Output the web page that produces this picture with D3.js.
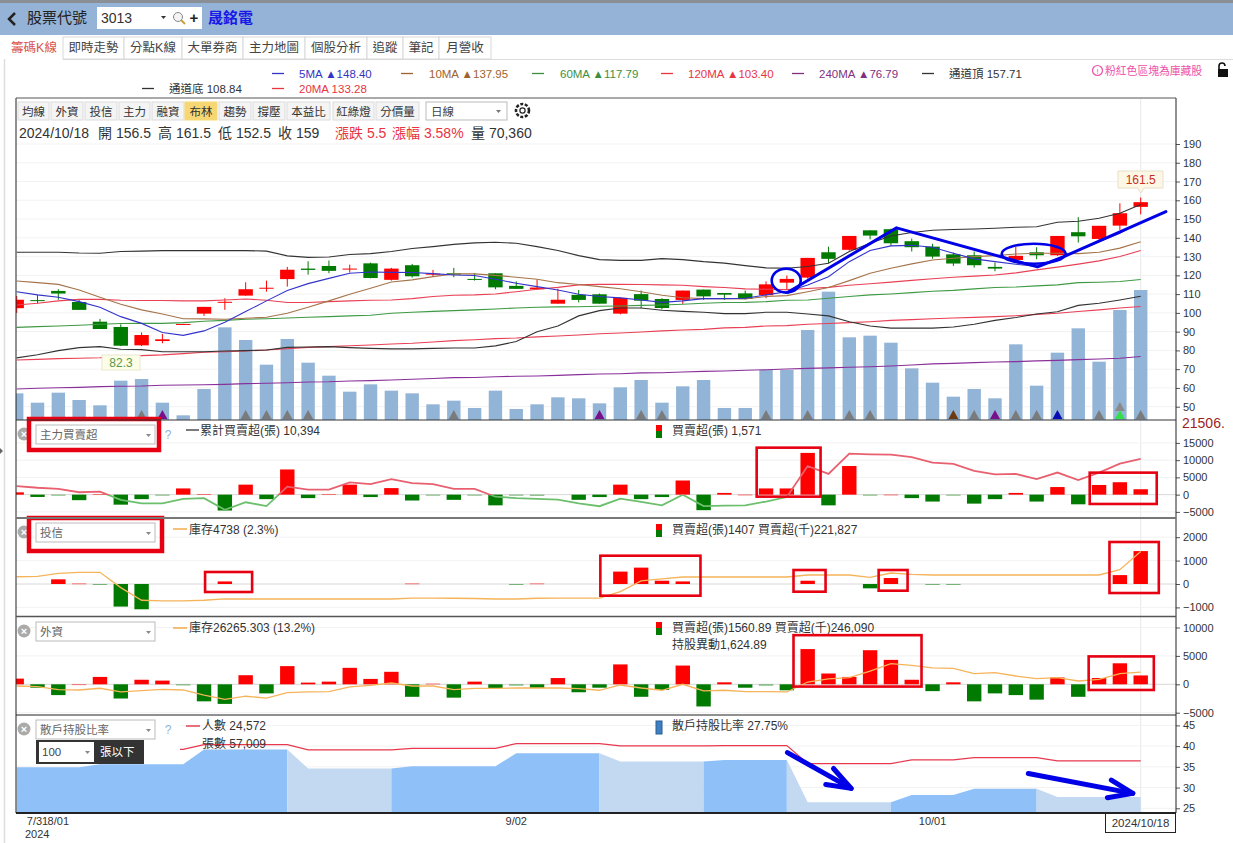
<!DOCTYPE html>
<html>
<head>
<meta charset="utf-8">
<title>晟銘電 3013</title>
<script src="https://cdn.jsdelivr.net/npm/d3@7"></script>
<style>
html, body { margin: 0; padding: 0; background: #fff; }
svg { display: block; }
text { font-family: "Liberation Sans", "Noto Sans CJK TC", sans-serif; }
</style>
</head>
<body>
<svg id="chart" width="1233" height="843"></svg>
<script>
// daily candles, 7/30 .. 2024/10/18
var opens = [102.5,106.8,111.7,105.8,95.3,92.5,82.7,85,93.7,99.6,105.6,109.2,113,118,123.6,125,123.2,126.4,117.6,125.4,120.4,121.1,118.1,121.1,114.4,112.6,104.9,109.6,109.9,99.6,110,107.4,106.9,112.4,110.6,110.4,109.4,116.1,118.8,132.3,133.6,144,144.6,138.2,135.3,131.2,130.7,124.5,128.2,132.3,130.7,143,139.4,146.5,156.5];
var closes = [107,106.5,110.3,101.6,91.4,82.5,88.2,85.9,94.1,103.2,105.9,112.6,113.4,123,122.9,122.4,123.6,118.6,123.6,119.5,120.9,120.4,117.6,113.6,112.8,113.5,107,106.9,104.9,108,106.5,102.6,111.9,108.8,109.7,107.4,115.2,118.1,129.3,128.8,141,141.2,137.1,135,130,126.3,125.4,123.6,130.4,130.7,141,140.8,146.4,153.1,159];
var highs = [109,109.5,112.6,106.9,96.8,93.9,89.6,88.8,94.1,103.2,107.8,116.3,117.2,124.5,127.5,127.9,125.7,126.8,124,126.1,122.9,124,121.1,121.1,116.8,117.6,112.9,112.2,110.3,108.3,111.9,107.8,111.9,112.4,110.6,111.9,116.8,119.9,129.3,135.3,141,144,144.9,139.6,136.8,132.1,132.7,126.8,135.3,135,141,151,146.4,158.4,161.5];
var lows = [100,105,107,101.6,91.4,82.3,82.3,83.8,93.7,98.4,101.6,109.2,111.3,114,120.4,121.1,121.5,118.4,117.2,118.8,119.3,119,117.2,112.6,112.8,112.2,104.9,105.6,104.9,99.2,102.4,101.9,104.8,106.9,106.9,107.2,107.8,112.2,118.3,126.4,133.2,139.2,135.7,132.7,128.9,125,124.1,122.2,127.7,128.6,130.4,137.5,138.9,144.2,152.5];
var volumes = [14430,9380,14790,10820,7940,21290,22190,9380,2530,16780,50150,43300,29950,43840,31030,23990,15330,19300,15880,14430,8480,10460,6490,15880,5950,8480,12270,11730,9020,17680,21650,9380,18220,21650,6490,6490,27060,27060,48700,69450,44740,45640,41850,27960,20200,12630,16780,11730,40950,18580,36440,49610,31570,59530,70360];

var ma5 = [111.3,109.6,108.3,106,103,98,94.4,89.5,88,90.4,95,100.7,106.4,111.9,115.6,118.4,121.1,121.8,121.6,121.5,120.9,120.2,119.9,117.9,115.8,114,112.2,109.9,108.7,108,106.9,105.6,106.4,107.6,107.6,107.8,109.6,111.3,114.9,119.3,127.3,133.2,135.7,136,135,131.8,128.8,127.3,125.9,124.7,129,133.3,137.9,142.4,148.4];
var ma10 = [117,116.1,115.2,112.2,108.3,104.6,101.6,99.4,96.9,96.8,96.6,97.1,97.7,99.8,103,106.4,109.9,113.1,116.5,117.6,119.3,120.8,120.8,120,119,117.9,116.1,115.1,114,112.9,111.3,109.4,108.1,107.6,107.6,107.4,108.7,109.2,111.3,113.5,117.2,121.1,123.8,126.1,128.2,129.1,130,130.5,131.4,131.8,131.8,131.6,132.3,134.5,137.95];
var ma20 = [104.2,105.1,106.4,107.2,107.2,106.7,106.6,106.6,106.4,106.4,106.9,107.4,106.7,105.5,105.5,106,106.4,106.7,106.9,107.6,108.7,109.4,109.6,110.1,111.3,112.6,113.6,114.9,115.2,115.2,115.1,114.9,114.7,114,113.5,112.8,112.6,112.4,113,113.6,114.7,115.5,116.4,117.3,118.2,119,119.6,120.2,121.3,122.9,124.4,126,127.7,130,133.28];
var ma60 = [92.3,92.7,93,93.4,93.9,94.3,94.4,94.4,94.8,95.5,96,96.6,96.9,97.3,97.7,98,98.4,98.7,99.8,100.3,100.8,101.2,101.6,102.1,102.6,103,103.2,103.3,103.5,103.7,104,104.2,104.6,105.1,105.5,105.6,106,106.7,106.9,107.8,108.7,109.6,110.1,110.8,111.5,112,112.8,113.5,113.8,114.4,114.9,116.1,116.3,116.7,117.79];
var ma120 = [74.9,75.2,75.6,75.8,76.1,76.7,77.2,77.6,78.3,79,79.3,79.7,80.2,80.9,81.6,82,82.5,82.9,83.4,83.8,84.5,85.2,85.7,86.3,86.6,87.2,87.7,88.2,88.9,89.3,89.8,90.4,90.9,91.2,92,92.3,93,93.2,93.9,94.3,94.8,95.3,96,96.4,96.9,97.3,97.6,98,98.5,99.2,99.8,100.7,101.6,102.6,103.4];
var ma240 = [59.4,59.8,60.1,60.3,60.7,60.9,61,61.4,61.6,61.7,61.9,62.3,62.5,62.8,63.2,63.3,63.7,63.9,64.2,64.6,65,65.5,65.6,66,66.2,66.4,66.7,67.1,67.4,67.6,68,68.1,68.5,68.8,69,69.4,69.7,70.1,70.4,70.7,71,71.3,71.7,72.2,72.8,73.1,73.5,73.8,74,74.4,74.7,75.1,75.4,75.8,76.79];
var bollUpper = [132.3,132.3,132.3,131.9,131.8,132.7,132.9,133.2,133.2,133.2,133.2,133.2,132.9,130.4,129.6,129.8,131.1,131.6,132.7,134.3,135.3,136.5,137.3,137.6,137.1,135.3,133.2,130.5,128.4,128,128,128.9,128.4,127.3,126.5,125.2,124,123.8,124.7,126.4,132.7,137.1,141,142.8,144,144.4,144.7,145.1,145.6,145.9,148.3,148.8,150.4,153.1,157.71];
var bollLower = [76,77.7,79.9,81.5,82,80.6,80.4,79.3,79.3,79.3,79.7,79.9,80.2,81.6,81.8,82,81.5,81.1,80.8,80.8,81.1,81.3,81.3,82.4,84.7,90,93,98.4,101.2,102.6,102.6,101.4,100.8,100.3,99.6,99.6,100.3,100.3,99.4,98.4,95.3,93,91.9,91.9,91.9,92.5,93.9,96,97.5,99.4,100.6,104,105.1,106.9,108.84];

var mainForceNet = [670,-670,-300,-1600,200,-2900,-1300,-100,1800,200,-4600,2900,-1300,7300,-1000,200,2900,-700,1900,-1700,-250,-1500,-50,-3100,-300,-350,0,-1500,-700,2900,-1300,-700,4100,-4500,500,50,1800,1800,12100,-3100,8300,-200,50,-1000,-2000,-200,-2600,-1300,500,-2000,2200,-2800,2800,3600,1571];
var mainForceTotal = [2500,2000,1700,700,850,-1500,-2500,-2500,-1250,-1000,-4400,-2200,-3300,2300,1450,1450,3550,3050,4500,3350,3050,1700,1700,-600,-1000,-1250,-1450,-2500,-3350,-1150,-2100,-3100,0,-3300,-3200,-3100,-2000,-700,8300,6000,11900,11700,11600,10900,9300,8900,6900,5900,6000,4500,6400,4200,6400,9000,10394];
var trustNet = [0,0,200,30,-30,-965,-1080,0,0,0,110,0,0,0,0,0,0,0,0,30,0,0,0,0,-30,30,0,0,0,530,700,140,110,0,0,0,0,0,140,0,0,-185,255,0,-30,-30,0,0,0,0,0,0,0,380,1407];
var trustStock = [310,330,455,500,500,-155,-695,-725,-725,-695,-640,-640,-640,-640,-640,-640,-640,-640,-640,-600,-600,-610,-620,-640,-640,-610,-600,-600,-600,-325,130,215,300,300,300,300,300,300,385,385,385,285,470,410,385,385,385,385,385,385,385,385,385,610,1390];
var foreignNet = [1000,-600,-1900,30,1300,-2500,800,650,-200,-3000,-3450,1600,-1600,3200,300,470,2900,950,2200,-2200,150,-2350,470,-650,-250,-650,1100,-1400,-600,3500,-2200,-1000,3300,-3900,350,-600,-250,-1050,6200,1900,1300,6000,4300,800,-1200,350,-3000,-1600,-1900,-2700,1200,-2200,1100,3700,1560.89];
var foreignStock = [-300,-400,-950,-1000,-700,-1350,-1100,-880,-1000,-1900,-2650,-2100,-2450,-1450,-1350,-1300,-470,-180,230,-300,-300,-950,-700,-700,-650,-650,-650,-750,-1050,-120,-650,-1050,0,-1170,-1050,-1290,-1290,-1350,400,940,1170,2340,3630,3330,2900,2800,1870,2050,1460,1000,1170,580,880,1870,2160];
var retailRatio = [34.9,34.9,34.9,34.9,35.64,35.64,35.64,35.64,35.64,39.16,39.16,39.16,39.16,39.16,34.6,34.6,34.6,34.6,34.6,35.16,35.16,35.16,35.16,35.16,38.28,38.28,38.28,38.28,38.28,36.28,36.28,36.28,36.28,36.28,36.68,36.68,36.68,36.68,26.44,26.44,26.44,26.44,26.44,28.2,28.2,28.2,29.72,29.72,29.72,29.72,27.75,27.75,27.75,27.75,27.75];
var holderLine = [39,39,39,39,39.24,39.24,39.24,39.24,39.24,40.36,40.36,40.36,40.36,40.36,39.08,39.08,39.08,39.08,39.08,39.48,39.48,39.48,39.48,39.48,40.6,40.6,40.6,40.6,40.6,40.04,40.04,40.04,40.04,40.04,40.12,40.12,40.12,40.12,35.8,35.8,35.8,35.8,35.8,36.68,36.68,36.68,37.24,37.24,37.24,37.24,36.44,36.44,36.44,36.44,36.44];

// triangles under the volume bars: [day index, kind]
var markers = [[6,"gray"],[7,"purple"],[11,"gray"],[12,"gray"],[13,"gray"],[14,"gray"],[21,"gray"],[28,"purple"],[30,"gray"],[31,"gray"],[36,"gray"],[38,"gray"],[40,"gray"],[41,"gray"],[45,"brown"],[46,"gray"],[47,"purple"],[48,"gray"],[49,"gray"],[50,"navy"],[52,"gray"],[53,"upper"],[53,"lime"],[54,"gray"]];
var dateTicks = [[1,"7/31"],[2,"8/01"],[24,"9/02"],[44,"10/01"]];

var priceTicks = [50,60,70,80,90,100,110,120,130,140,150,160,170,180,190];
var mainForceTicks = [-5000,0,5000,10000,15000];
var trustTicks = [-1000,0,1000,2000];
var foreignTicks = [-5000,0,5000,10000];
var ratioTicks = [25,30,35,40,45];

// hand drawn notes, in day index and axis value
var trendLine = [[37.05,111],[42.27,145.3],[49.04,124.5],[50.31,130],[55.21,154]];
var noteCircles = [[36.97,117.2,14.5,12],[48.86,131.5,32,10]];
var mainForceBoxes = [[35.55,38.62,13620,-580],[51.55,54.77,6380,-2700]];
var trustBoxes = [[9.05,11.31,513,-342],[28.04,32.85,1209,-500],[37.32,38.86,598,-329],[41.41,42.8,598,-286],[52.5,54.87,1795,-385]];
var foreignBoxes = [[37.32,43.47,8650,-400],[51.5,54.63,4910,-1000]];
var arrows = [[[37.03,38.44],[40.09,29.8],[39.24,34.6],[38.87,30.76]],[[48.6,33.4],[53.62,28.6],[52.59,31.8],[52.4,27.56]]];

var RED = "#ff0000", GREEN = "#007a00", HAND = "#0000e6";
var left = 16, right = 1176;
var days = d3.range(closes.length);

var svg = d3.select("#chart");
var defs = svg.append("defs");

var x = d3.scaleLinear().domain([0, 54]).range([16.7, 1140.7]);
var yPrice = d3.scaleLinear().domain([50, 190]).range([406.7, 144]);
var yVolume = d3.scaleLinear().domain([0, 70360]).range([420, 290]);
var yMainForce = d3.scaleLinear().domain([-5000, 15000]).range([511.9, 442.9]);
var yTrust = d3.scaleLinear().domain([-1000, 2000]).range([607.4, 537.2]);
var yForeign = d3.scaleLinear().domain([-5000, 10000]).range([712.7, 627.5]);
var yRatio = d3.scaleLinear().domain([25, 45]).range([808.3, 725.4]);

function label(parent, px, py, str, color, size, anchor, weight) {
  return parent.append("text").attr("x", px).attr("y", py).text(str)
    .attr("fill", color || "#333").attr("font-size", size || 12)
    .attr("text-anchor", anchor || "start").attr("font-weight", weight || "normal");
}

function box(parent, px, py, w, h, fill, stroke, sw) {
  return parent.append("rect").attr("x", px).attr("y", py).attr("width", w).attr("height", h)
    .attr("fill", fill || "none").attr("stroke", stroke || "none").attr("stroke-width", sw || 1);
}

function dash(parent, x1, x2, py, color) {
  parent.append("line").attr("x1", x1).attr("x2", x2).attr("y1", py).attr("y2", py)
    .attr("stroke", color).attr("stroke-width", 1.3);
}

// top of the page
function drawHeader() {
  var g = svg.append("g");
  box(g, 0, 0, 1233, 3, "#8a8f96");
  box(g, 0, 3, 1233, 32, "#95b3d7");
  g.append("path").attr("d", "M15 13 L9 19 L15 25").attr("fill", "none").attr("stroke", "#222").attr("stroke-width", 2.5);
  label(g, 27, 23, "股票代號", "#222", 15);
  box(g, 97, 7, 105, 22, "#fff");
  label(g, 101, 23, "3013", "#333", 14);
  g.append("path").attr("d", "M161 16 h5 l-2.5 3 z").attr("fill", "#333");
  g.append("circle").attr("cx", 178).attr("cy", 17).attr("r", 4.5).attr("fill", "#f4f4f4").attr("stroke", "#888");
  g.append("line").attr("x1", 181).attr("y1", 20).attr("x2", 185).attr("y2", 24).attr("stroke", "#c9a13b").attr("stroke-width", 2);
  label(g, 194, 23, "+", "#222", 15, "middle", "bold");
  label(g, 208, 23, "晟銘電", "#1a1ae6", 15, "start", "bold");

  var tabs = [["籌碼K線",5,63],["即時走勢",63,124],["分點K線",124,182],["大單券商",182,243],["主力地圖",243,305],["個股分析",305,367],["追蹤",367,403],["筆記",403,439],["月營收",439,491]];
  g.append("line").attr("x1", 5).attr("x2", 1233).attr("y1", 59.5).attr("y2", 59.5).attr("stroke", "#ddd");
  tabs.forEach(function (t, i) {
    box(g, t[1], i == 0 ? 35 : 37, t[2] - t[1], i == 0 ? 25 : 22, "#fff", i == 0 ? "none" : "#d8d8d8");
    label(g, (t[1] + t[2]) / 2, 52, t[0], i == 0 ? "#d9534f" : "#444", 12.5, "middle");
  });
  g.append("line").attr("x1", 4.5).attr("x2", 4.5).attr("y1", 59).attr("y2", 843).attr("stroke", "#ddd").attr("stroke-width", 1.5);
  g.append("path").attr("d", "M0 448 l3 3 l-3 3 z").attr("fill", "#666");

  var row1 = [[272,299,"5MA ▲148.40","#3434c4"],[401,429,"10MA ▲137.95","#a0622d"],[532,560,"60MA ▲117.79","#3d8f3d"],[661,688,"120MA ▲103.40","#e8343f"],[792,819,"240MA ▲76.79","#80307f"],[922,949,"通道頂 157.71","#333"]];
  row1.forEach(function (r) {
    dash(g, r[0], r[0] + 12, 73.5, r[3]);
    label(g, r[1], 77.5, r[2], r[3], 11.5);
  });
  var row2 = [[142,169,"通道底 108.84","#333"],[272,299,"20MA 133.28","#e8343f"]];
  row2.forEach(function (r) {
    dash(g, r[0], r[0] + 12, 88.5, r[3]);
    label(g, r[1], 92.5, r[2], r[3], 11.5);
  });

  g.append("circle").attr("cx", 1097.5).attr("cy", 70.5).attr("r", 5).attr("fill", "none").attr("stroke", "#ee4fa8").attr("stroke-width", 1.2);
  label(g, 1097.5, 73.5, "!", "#ee4fa8", 8, "middle");
  label(g, 1105, 75, "粉紅色區塊為庫藏股", "#ee4fa8", 10.8);
  box(g, 1218, 69, 10, 8, "#111");
  g.append("path").attr("d", "M1219 69 v-3 a3 3 0 0 1 6 0").attr("fill", "none").attr("stroke", "#111").attr("stroke-width", 1.6);
}

function drawToolbar() {
  var g = svg.append("g");
  var buttons = [["均線",18,49],["外資",51,83],["投信",85,117],["主力",119,150],["融資",152,184],["布林",185,217],["趨勢",219,251],["撐壓",253,285],["本益比",287,330],["紅綠燈",333,374],["分價量",376,419]];
  buttons.forEach(function (b) {
    var on = b[0] == "布林";
    box(g, b[1], 102, b[2] - b[1], 18, on ? "#f7d774" : "#f4f4f4", on ? "#f7d774" : "#dcdcdc");
    label(g, (b[1] + b[2]) / 2, 115.5, b[0], "#333", 11.5, "middle");
  });
  box(g, 426, 102, 81, 18, "#fff", "#bbb");
  label(g, 431, 115.5, "日線", "#444", 11.5);
  g.append("path").attr("d", "M496 110 h5 l-2.5 3 z").attr("fill", "#777");
  g.append("circle").attr("cx", 522.5).attr("cy", 110.5).attr("r", 6.5).attr("fill", "none").attr("stroke", "#222").attr("stroke-width", 2.6).attr("stroke-dasharray", "3 1.6");
  g.append("circle").attr("cx", 522.5).attr("cy", 110.5).attr("r", 2.6).attr("fill", "none").attr("stroke", "#222").attr("stroke-width", 1.2);

  var quote = [[19,"2024/10/18"],[98,"開 156.5"],[158,"高 161.5"],[218,"低 152.5"],[278,"收 159"]];
  quote.forEach(function (q) { label(g, q[0], 138, q[1], "#333", 14); });
  label(g, 335, 138, "漲跌 5.5", "#e8343f", 14);
  label(g, 392, 138, "漲幅 3.58%", "#e8343f", 14);
  label(g, 471, 138, "量 70,360", "#333", 14);
}

function grid(parent, ticks, scale, x2) {
  parent.selectAll(null).data(ticks).enter().append("line")
    .attr("x1", left).attr("x2", x2 || right)
    .attr("y1", function (d) { return scale(d); }).attr("y2", function (d) { return scale(d); })
    .attr("stroke", function (d) { return d === 0 ? "#d8d8d8" : "#f2f2f2"; });
}

function rightAxis(ticks, scale) {
  var axis = d3.axisRight(scale).tickValues(ticks).tickSize(4).tickPadding(3).tickFormat(d3.format("d"));
  var g = svg.append("g").attr("transform", "translate(" + right + ",0)").call(axis);
  g.select(".domain").remove();
  g.selectAll("text").attr("font-size", 11).attr("fill", "#333");
  g.selectAll("line").attr("stroke", "#555");
}

function clipped(id, top, bottom) {
  defs.append("clipPath").attr("id", id).append("rect")
    .attr("x", left).attr("y", top).attr("width", right - left).attr("height", bottom - top);
  return svg.append("g").attr("clip-path", "url(#" + id + ")");
}

function drawLine(g, values, scale, color, width) {
  var line = d3.line().x(function (d, i) { return x(i); }).y(function (d) { return scale(d); });
  return g.append("path").attr("d", line(values)).attr("fill", "none")
    .attr("stroke", color).attr("stroke-width", width || 1.1);
}

function drawNetBars(g, values, scale) {
  g.selectAll(null).data(values).enter().append("rect")
    .attr("x", function (d, i) { return x(i) - 7.2; })
    .attr("width", 14.4)
    .attr("y", function (d) { return d >= 0 ? scale(d) : scale(0); })
    .attr("height", function (d) { return Math.max(1, Math.abs(scale(d) - scale(0))); })
    .attr("fill", function (d) { return d >= 0 ? RED : GREEN; })
    .attr("opacity", function (d) {
      if (d === 0) return 0;
      return Math.abs(scale(d) - scale(0)) < 1.5 ? 0.5 : 1;
    });
}

function drawRedBoxes(list, scale) {
  svg.append("g").selectAll("rect").data(list).enter().append("rect")
    .attr("x", function (d) { return x(d[0]); })
    .attr("width", function (d) { return x(d[1]) - x(d[0]); })
    .attr("y", function (d) { return scale(d[2]); })
    .attr("height", function (d) { return scale(d[3]) - scale(d[2]); })
    .attr("fill", "none").attr("stroke", "#e60012").attr("stroke-width", 2.6);
}

function selectBox(g, py, str, h) {
  g.append("circle").attr("cx", 24).attr("cy", py + 9).attr("r", 6.5).attr("fill", "#aaa");
  label(g, 24, py + 13, "×", "#fff", 11, "middle", "bold");
  box(g, 36, py, 119, h || 19, "#fff", "#bbb");
  label(g, 40, py + 14, str, "#666", 11.5);
  g.append("path").attr("d", "M146 " + (py + 9) + " h5 l-2.5 3 z").attr("fill", "#888");
}

function netIcon(g, py) {
  box(g, 656, py, 6, 6, RED);
  box(g, 656, py + 6, 6, 7, GREEN);
}

function drawMainPanel() {
  var bg = svg.append("g");
  grid(bg, priceTicks, yPrice);
  var g = clipped("clipMain", 99, 420);

  g.selectAll("rect.vol").data(volumes).enter().append("rect").attr("class", "vol")
    .attr("x", function (d, i) { return x(i) - 6.7; })
    .attr("width", 13.4)
    .attr("y", function (d) { return yVolume(d); })
    .attr("height", function (d) { return yVolume(0) - yVolume(d); })
    .attr("fill", "#92b4d6");

  var markColor = { gray: "#7b7b7b", upper: "#8a8a8a", purple: "#7a0f8c", brown: "#6b3a10", navy: "#0a0ab4", lime: "#33e04a" };
  g.selectAll("path.mark").data(markers).enter().append("path").attr("class", "mark")
    .attr("transform", function (d) { return "translate(" + x(d[0]) + "," + (d[1] == "upper" ? 407 : 415) + ")"; })
    .attr("d", "M0 -5 L5 4 L-5 4 Z")
    .attr("fill", function (d) { return markColor[d[1]]; });

  var candles = g.selectAll("g.candle").data(days).enter().append("g").attr("class", "candle");
  function candleColor(i) { return closes[i] >= opens[i] ? RED : GREEN; }
  candles.append("line")
    .attr("x1", function (i) { return x(i); }).attr("x2", function (i) { return x(i); })
    .attr("y1", function (i) { return yPrice(highs[i]); }).attr("y2", function (i) { return yPrice(lows[i]); })
    .attr("stroke", candleColor).attr("stroke-width", 1);
  candles.append("rect")
    .attr("x", function (i) { return x(i) - 7.2; }).attr("width", 14.4)
    .attr("y", function (i) { return yPrice(Math.max(opens[i], closes[i])); })
    .attr("height", function (i) { return Math.max(1, Math.abs(yPrice(opens[i]) - yPrice(closes[i]))); })
    .attr("fill", candleColor);

  drawLine(g, ma240, yPrice, "#8a2f9a");
  drawLine(g, ma120, yPrice, "#e94055");
  drawLine(g, ma60, yPrice, "#3f9a45");
  drawLine(g, ma20, yPrice, "#e94055");
  drawLine(g, ma10, yPrice, "#a5744a");
  drawLine(g, bollLower, yPrice, "#333");
  drawLine(g, bollUpper, yPrice, "#333");
  drawLine(g, ma5, yPrice, "#3333cc");

  // low and high tags
  var low = svg.append("g");
  box(low, 102, 355, 38, 15, "#fdfde8", "#e8e8cf");
  label(low, 121, 367, "82.3", "#5a9a4a", 12, "middle");
  var high = svg.append("g");
  high.append("path").attr("d", "M1118 171 h45 v17 h-19 l-3.2 5 l-3.2 -5 h-19.6 z").attr("fill", "#fdf8e6").attr("stroke", "#e8dfc8");
  label(high, 1140.7, 184, "161.5", "#c8321e", 12, "middle");

  var hand = d3.line().x(function (d) { return x(d[0]); }).y(function (d) { return yPrice(d[1]); });
  svg.append("path").attr("d", hand(trendLine)).attr("fill", "none").attr("stroke", HAND)
    .attr("stroke-width", 3).attr("stroke-linejoin", "round").attr("stroke-linecap", "round");
  svg.append("g").selectAll("ellipse").data(noteCircles).enter().append("ellipse")
    .attr("cx", function (d) { return x(d[0]); }).attr("cy", function (d) { return yPrice(d[1]); })
    .attr("rx", function (d) { return d[2]; }).attr("ry", function (d) { return d[3]; })
    .attr("fill", "none").attr("stroke", HAND).attr("stroke-width", 2.6);

  rightAxis(priceTicks, yPrice);
  label(svg, 1182, 428, "21506.", "#9c1f1f", 14);
}

function drawMainForcePanel() {
  var bg = svg.append("g");
  grid(bg, mainForceTicks, yMainForce);
  var g = clipped("clipForce", 421, 518);
  drawNetBars(g, mainForceNet, yMainForce);

  var grad = defs.append("linearGradient").attr("id", "forceLine").attr("gradientUnits", "userSpaceOnUse")
    .attr("x1", 0).attr("x2", 0).attr("y1", yMainForce(15000)).attr("y2", yMainForce(-5000));
  var split = (yMainForce(0) - yMainForce(15000)) / (yMainForce(-5000) - yMainForce(15000));
  grad.append("stop").attr("offset", split).attr("stop-color", "#e8606f");
  grad.append("stop").attr("offset", split).attr("stop-color", "#6cbf6c");
  drawLine(g, mainForceTotal, yMainForce, "url(#forceLine)", 1.8);

  var c = svg.append("g");
  selectBox(c, 425, "主力買賣超");
  label(c, 168, 439, "?", "#8fb4d6", 12, "middle");
  dash(c, 186, 199, 430, "#333");
  label(c, 200, 435, "累計買賣超(張) 10,394", "#333", 12);
  netIcon(c, 425);
  label(c, 672, 435, "買賣超(張) 1,571", "#333", 12);
  box(svg, 29, 419, 130, 31, "none", "#e60012", 4.5);
  drawRedBoxes(mainForceBoxes, yMainForce);
  rightAxis(mainForceTicks, yMainForce);
}

function drawTrustPanel() {
  var bg = svg.append("g");
  grid(bg, trustTicks, yTrust);
  var g = clipped("clipTrust", 519, 616);
  drawNetBars(g, trustNet, yTrust);
  drawLine(g, trustStock, yTrust, "#f5b45a", 1.3);

  var c = svg.append("g");
  selectBox(c, 523, "投信");
  dash(c, 173, 187, 529, "#f0a030");
  label(c, 189, 534, "庫存4738 (2.3%)", "#333", 12);
  netIcon(c, 524);
  label(c, 672, 534, "買賣超(張)1407 買賣超(千)221,827", "#333", 12);
  box(svg, 29, 518, 133, 33, "none", "#e60012", 4.5);
  drawRedBoxes(trustBoxes, yTrust);
  rightAxis(trustTicks, yTrust);
}

function drawForeignPanel() {
  var bg = svg.append("g");
  grid(bg, foreignTicks, yForeign);
  var g = clipped("clipForeign", 618, 715);
  drawNetBars(g, foreignNet, yForeign);
  drawLine(g, foreignStock, yForeign, "#f5b45a", 1.3);

  var c = svg.append("g");
  selectBox(c, 622, "外資");
  dash(c, 173, 187, 628, "#f0a030");
  label(c, 189, 632, "庫存26265.303 (13.2%)", "#333", 12);
  netIcon(c, 622);
  label(c, 672, 632, "買賣超(張)1560.89 買賣超(千)246,090", "#333", 12);
  label(c, 672, 649, "持股異動1,624.89", "#333", 12);
  drawRedBoxes(foreignBoxes, yForeign);
  rightAxis(foreignTicks, yForeign);
}

function drawRetailPanel() {
  var bg = svg.append("g");
  grid(bg, ratioTicks, yRatio);
  var g = clipped("clipRetail", 716, 813);

  // a run keeps its colour until the weekly ratio turns the other way
  var rising = true, runs = [], run = [0];
  for (var i = 1; i < retailRatio.length; i++) {
    var now = retailRatio[i] == retailRatio[i - 1] ? rising : retailRatio[i] > retailRatio[i - 1];
    if (now != rising) {
      runs.push({ up: rising, idx: run });
      run = [i - 1];
      rising = now;
    }
    run.push(i);
  }
  runs.push({ up: rising, idx: run });

  var area = d3.area().x(function (i) { return x(i); }).y0(813)
    .y1(function (i) { return yRatio(retailRatio[i]); });
  g.selectAll("path.run").data(runs).enter().append("path").attr("class", "run")
    .attr("d", function (d) { return area(d.idx); })
    .attr("fill", function (d) { return d.up ? "#8fc0f8" : "#c3d9f2"; });
  drawLine(g, holderLine, yRatio, "#e8384f", 1.2);

  var c = svg.append("g");
  box(c, 16, 717, 164, 46, "#fff");
  selectBox(c, 720, "散戶持股比率");
  label(c, 168, 734, "?", "#8fb4d6", 12, "middle");
  dash(c, 186, 200, 726, "#d9283a");
  label(c, 202, 730, "人數 24,572", "#333", 12);
  label(c, 202, 748, "張數 57,009", "#333", 12);
  box(c, 36, 740, 108, 24, "#333");
  box(c, 39, 742, 55, 20, "#fff");
  label(c, 42, 756, "100", "#444", 11.5);
  c.append("path").attr("d", "M85 751 h5 l-2.5 3 z").attr("fill", "#888");
  label(c, 100, 756, "張以下", "#fff", 11.5);
  box(c, 656, 721, 6, 13, "#3f7fbf", "#2a5f95");
  label(c, 672, 730, "散戶持股比率 27.75%", "#333", 12);

  var hand = d3.line().x(function (d) { return x(d[0]); }).y(function (d) { return yRatio(d[1]); });
  arrows.forEach(function (a) {
    [[a[0], a[1]], [a[2], a[1], a[3]]].forEach(function (pts) {
      svg.append("path").attr("d", hand(pts)).attr("fill", "none").attr("stroke", HAND)
        .attr("stroke-width", 5).attr("stroke-linecap", "round").attr("stroke-linejoin", "round");
    });
  });
  rightAxis(ratioTicks, yRatio);

  var t = svg.append("g");
  t.selectAll("text").data(dateTicks).enter().append("text")
    .attr("x", function (d) { return x(d[0]); }).attr("y", 825)
    .attr("text-anchor", "middle").attr("font-size", 11).attr("fill", "#333")
    .text(function (d) { return d[1]; });
  label(t, 25, 838, "2024", "#333", 11);
  box(t, 1105.5, 813.5, 70, 19, "#fff", "#222");
  label(t, 1140.5, 827, "2024/10/18", "#333", 11.5, "middle");
}

function drawFrames() {
  var f = svg.append("g");
  f.append("line").attr("x1", left).attr("x2", left).attr("y1", 98).attr("y2", 813).attr("stroke", "#222");
  f.append("line").attr("x1", right).attr("x2", right).attr("y1", 98).attr("y2", 813).attr("stroke", "#222");
  [[98, "#555", 1], [420, "#333", 1], [518, "#777", 2], [616.5, "#555", 1.5], [715, "#222", 1], [813, "#222", 2]].forEach(function (r) {
    f.append("line").attr("x1", left).attr("x2", right).attr("y1", r[0]).attr("y2", r[0])
      .attr("stroke", r[1]).attr("stroke-width", r[2]);
  });
}

drawHeader();
drawToolbar();
// last day marker line sits under every panel
svg.append("line").attr("x1", x(54)).attr("x2", x(54)).attr("y1", 99).attr("y2", 813).attr("stroke", "#e8e8e8");
drawMainPanel();
drawMainForcePanel();
drawTrustPanel();
drawForeignPanel();
drawRetailPanel();
drawFrames();
</script>
</body>
</html>
